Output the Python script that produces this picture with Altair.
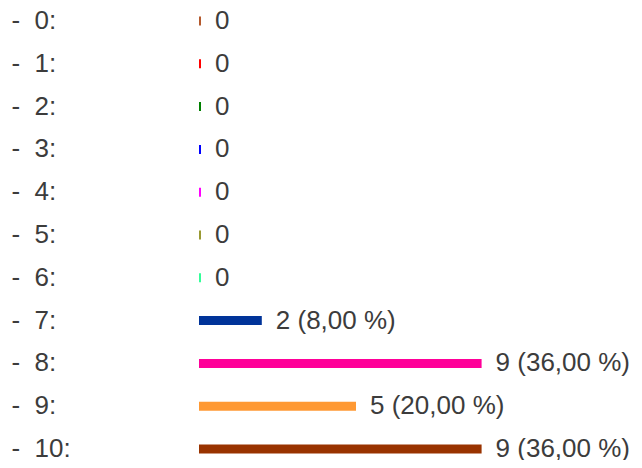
import altair as alt
import pandas as pd

categories = ["0", "1", "2", "3", "4", "5", "6", "7", "8", "9", "10"]
counts = [0, 0, 0, 0, 0, 0, 0, 2, 9, 5, 9]
value_labels = ["0", "0", "0", "0", "0", "0", "0",
                "2 (8,00 %)", "9 (36,00 %)", "5 (20,00 %)", "9 (36,00 %)"]
colors = ["#B4592D", "#FF0000", "#008000", "#0000FF", "#FF00FF", "#999933",
          "#33FF99", "#003399", "#FF0099", "#FF9933", "#993300"]

df = pd.DataFrame({"cat": categories, "count": counts, "label": value_labels})

FONT = "Liberation Sans"
TXT = "#3c3c3c"
FS = 26

y_enc = alt.Y("cat:N", sort=categories,
              scale=alt.Scale(type="band", range=[-8.4, 462.4],
                              paddingInner=0, paddingOuter=0),
              axis=alt.Axis(title=None, domain=False, ticks=False, grid=False,
                            labelAlign="left", labelPadding=188,
                            labelFont=FONT, labelFontSize=FS, labelColor=TXT,
                            labelExpr="'-\u00a0\u00a0' + datum.label + ':'"))
x_enc = alt.X("count:Q", scale=alt.Scale(domain=[0, 10], nice=False),
              axis=None)
color_enc = alt.Color("cat:N", sort=categories,
                      scale=alt.Scale(domain=categories, range=colors),
                      legend=None)

base = alt.Chart(df)

bars = base.transform_filter("datum.count > 0").mark_bar(size=9).encode(
    x=x_enc, y=y_enc, color=color_enc)

ticks = base.transform_filter("datum.count == 0").mark_tick(
    orient="vertical", thickness=2, size=9, xOffset=1, opacity=1).encode(
    x=x_enc, y=y_enc, color=color_enc)

texts = base.transform_filter("datum.count > 0").mark_text(
    align="left", baseline="middle", dx=14, font=FONT, fontSize=FS,
    color=TXT).encode(x=x_enc, y=y_enc, text="label:N")

texts0 = base.transform_filter("datum.count == 0").mark_text(
    align="left", baseline="middle", dx=16, font=FONT, fontSize=FS,
    color=TXT).encode(x=x_enc, y=y_enc, text="label:N")

chart = alt.layer(bars, ticks, texts, texts0).properties(
    width=314, height=452,
    autosize=alt.AutoSizeParams(type="none"),
    padding={"left": 191, "right": 121, "top": 0, "bottom": 0},
    background="white",
).configure_view(stroke=None)

chart.save("out.html", embed_options={"renderer": "svg", "actions": False})
